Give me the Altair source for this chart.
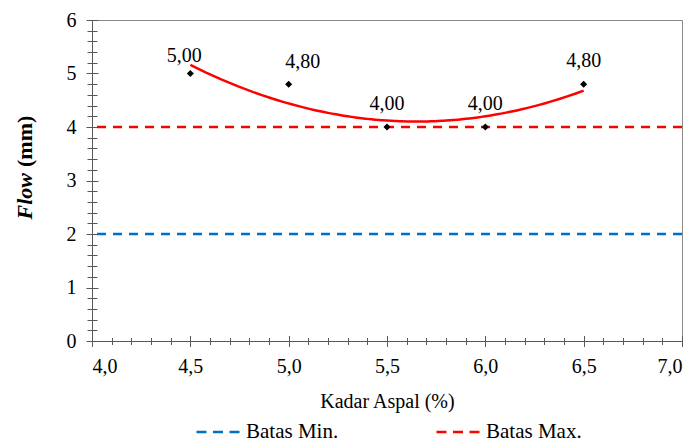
import altair as alt
import pandas as pd

# Measured flow values per asphalt content
kadar_aspal = [4.5, 5.0, 5.5, 6.0, 6.5]
flow = [5.00, 4.80, 4.00, 4.00, 4.80]

# Specification limits
batas_nama = ["Batas Min.", "Batas Max."]
batas_nilai = [2, 4]
batas_warna = ["#0070C0", "#FF0000"]

# Axis tick positions
x_major = [4.0, 4.5, 5.0, 5.5, 6.0, 6.5, 7.0]
x_minor = [round(4.0 + 0.1 * i, 1) for i in range(31)]
y_major = [0, 1, 2, 3, 4, 5, 6]
y_minor = [round(0.2 * i, 1) for i in range(31)]

FONT = "'Liberation Serif', 'Times New Roman', serif"
AXIS_GREY = "#595959"

data = pd.DataFrame({"kadar": kadar_aspal, "flow": flow})
limits = pd.DataFrame({"nama": batas_nama, "nilai": batas_nilai})

xs = alt.Scale(domain=[4.0, 7.0], nice=False, zero=False)
ys = alt.Scale(domain=[0, 6], nice=False, zero=True)

comma1 = "replace(format(datum.value, '.1f'), '.', ',')"


def tick_axis(orient, values, size, offset=0):
    """Tick-only axis used to build the crossing major/minor ticks."""
    return alt.Axis(
        orient=orient, values=values, tickSize=size, offset=offset,
        labels=False, domain=False, grid=False, title=None,
    )


main_x = alt.Axis(
    orient="bottom", values=x_major, labelExpr=comma1, tickSize=5.5,
    labelFont=FONT, labelFontSize=20, labelColor="black", labelPadding=10,
    title="Kadar Aspal (%)", titleFont=FONT, titleFontSize=20,
    titleFontWeight="normal", titleColor="black", titlePadding=15, grid=False,
)
main_y = alt.Axis(
    orient="left", values=y_major, format="d", tickSize=6,
    labelFont=FONT, labelFontSize=20, labelColor="black", labelPadding=10,
    title=None, grid=False,
)

base = alt.Chart(data)

rules = alt.Chart(limits).mark_rule(strokeWidth=2.5, strokeDash=[9, 7]).encode(
    y=alt.Y("nilai:Q", scale=ys, axis=None),
    color=alt.Color(
        "nama:N",
        scale=alt.Scale(domain=batas_nama, range=batas_warna),
        legend=alt.Legend(
            orient="none", legendX=103, legendY=389, direction="horizontal",
            title=None, symbolType="stroke", symbolSize=1849,
            symbolStrokeWidth=2.5, symbolDash=[10, 6.5],
            labelFont=FONT, labelFontSize=21, labelColor="black",
            labelOffset=5, columnPadding=92,
        ),
    ),
)

trend = base.transform_regression(
    "kadar", "flow", method="poly", order=2, extent=[4.5, 6.5]
).mark_line(color="#FF0000", strokeWidth=2.5).encode(
    x=alt.X("kadar:Q", scale=xs, axis=tick_axis("bottom", x_minor, 3.5)),
    y=alt.Y("flow:Q", scale=ys, axis=tick_axis("left", y_minor, 5)),
)

points = base.mark_point(
    shape="diamond", filled=True, color="black", size=50, opacity=1
).encode(
    x=alt.X("kadar:Q", scale=xs, axis=main_x),
    y=alt.Y("flow:Q", scale=ys, axis=main_y),
)

label_expr = "replace(format(datum.flow, '.2f'), '.', ',')"


def value_labels(test, dx, dy, xaxis, yaxis):
    return base.transform_filter(test).transform_calculate(
        label=label_expr
    ).mark_text(
        font=FONT, fontSize=20, color="black", dx=dx, dy=dy, baseline="middle"
    ).encode(
        x=alt.X("kadar:Q", scale=xs, axis=xaxis),
        y=alt.Y("flow:Q", scale=ys, axis=yaxis),
        text="label:N",
    )


lab_a = value_labels("datum.kadar == 4.5", -6, -18,
                     tick_axis("bottom", x_major, 5.5, -5.5),
                     tick_axis("left", y_major, 6, -6))
lab_b = value_labels("datum.kadar == 5.0", 14, -22,
                     tick_axis("bottom", x_minor, 3.5, -3.5),
                     tick_axis("left", y_minor, 5, -5))
lab_c = value_labels("datum.kadar > 5.2", 0, -23, None, None)

one = alt.Data(values=[{}])
title_flow = alt.Chart(one).mark_text(
    text="Flow", angle=270, align="right", baseline="alphabetic",
    font=FONT, fontSize=22, fontStyle="italic", fontWeight="bold", color="black",
).encode(x=alt.value(-60), y=alt.value(153))
title_mm = alt.Chart(one).mark_text(
    text="(mm)", angle=270, align="left", baseline="alphabetic",
    font=FONT, fontSize=22, fontWeight="bold", color="black",
).encode(x=alt.value(-60), y=alt.value(147))

chart = alt.layer(
    rules, trend, points, lab_a, lab_b, lab_c, title_flow, title_mm
).resolve_axis(
    x="independent", y="independent"
).properties(
    width=590, height=321, autosize="none",
    padding={"left": 92, "top": 20, "right": 16, "bottom": 102},
).configure_view(
    stroke="#898989", strokeWidth=1
).configure_axis(
    domainColor=AXIS_GREY, tickColor=AXIS_GREY, domainWidth=1, tickWidth=1,
)

chart.save("out.html", embed_options={"renderer": "svg", "actions": False})
